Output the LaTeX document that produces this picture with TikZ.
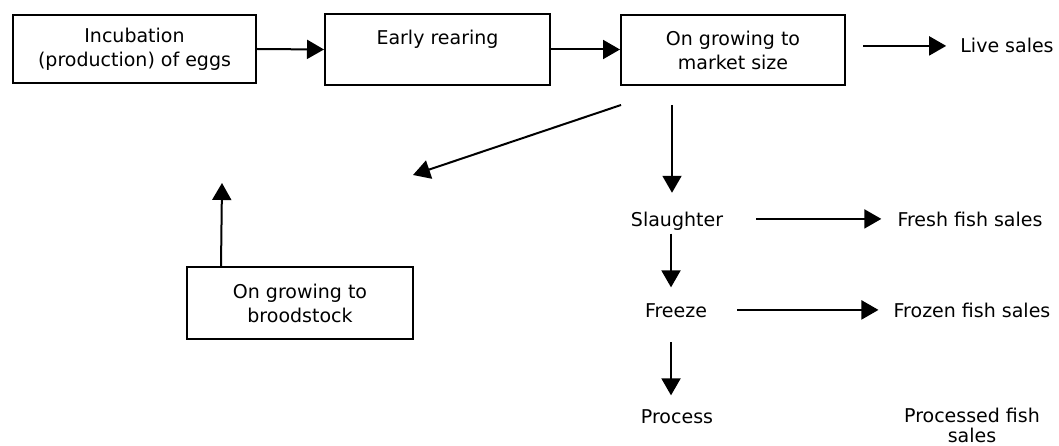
\documentclass[tikz,border=0pt]{standalone}
\usepackage{fontspec}
\setmainfont{DejaVu Sans}
\usetikzlibrary{arrows.meta}
\begin{document}
\begin{tikzpicture}[x=1pt,y=-1pt,
  every node/.style={inner sep=0pt, font=\fontsize{19}{24}\selectfont},
  stagebox/.style={draw, line width=2pt, rectangle, align=center},
  lbl/.style={anchor=base},
  arr/.style={line width=2pt, -{Triangle[length=17pt,width=19pt]}}]
\useasboundingbox (0,0) rectangle (1059,446);

% process stages in boxes
\node[stagebox, minimum width=243pt, minimum height=68pt] (incub) at (134.5,49)
  {Incubation\\(production) of eggs};
\node[stagebox, minimum width=225pt, minimum height=71pt] (rear) at (437.5,49.5)
  {Early rearing\\\mbox{}};
\node[stagebox, minimum width=224pt, minimum height=70pt] (market) at (733,50)
  {On growing to\\market size};
\node[stagebox, minimum width=226pt, minimum height=72pt] (brood) at (300,303)
  {On growing to\\broodstock};

% processing steps and sales outlets
\node[lbl] (live) at (1007,53) {Live sales};
\node[lbl] (slaughter) at (677,226) {Slaughter};
\node[lbl] (fresh) at (970,226) {Fresh fish sales};
\node[lbl] (freeze) at (676,317) {Freeze};
\node[lbl] (frozen) at (972,317) {Frozen fish sales};
\node[lbl] (process) at (677,423) {Process};
\node[align=center, font=\fontsize{19}{20}\selectfont] (processed) at (972,425.5)
  {Processed fish\\sales};

% free ends of the broodstock loop
\coordinate (loopin) at (413,175);
\coordinate (loopout) at (222,183);

% main chain
\draw[arr] (incub.east) -- (rear.west);
\draw[arr] (rear.east) -- (rear.east -| market.west);
\draw[arr, shorten <=17pt, shorten >=14pt] (market.east |- live.west) -- (live.west);

% broodstock loop
\draw[arr] ([shift={(1pt,-19pt)}]market.south west) -- (loopin);
\draw[arr] ([xshift=35pt]brood.north west) -- (loopout);

% harvest and processing
\draw[arr, shorten <=19pt, shorten >=18.6pt]
  ([xshift=-5pt]slaughter.north |- market.south) -- ([xshift=-5pt]slaughter.north);
\draw[arr, shorten <=33pt, shorten >=16pt] (slaughter.east |- fresh.west) -- (fresh.west);
\draw[arr, shorten <=3.5pt, shorten >=15.6pt]
  ([xshift=-6pt]slaughter.south) -- ([xshift=-6pt]slaughter.south |- freeze.north);
\draw[arr, shorten <=30pt, shorten >=15pt] (freeze.east |- frozen.west) -- (frozen.west);
\draw[arr, shorten <=25pt, shorten >=13.6pt]
  ([xshift=-5pt]freeze.south) -- ([xshift=-5pt]freeze.south |- process.north);
\end{tikzpicture}
\end{document}
